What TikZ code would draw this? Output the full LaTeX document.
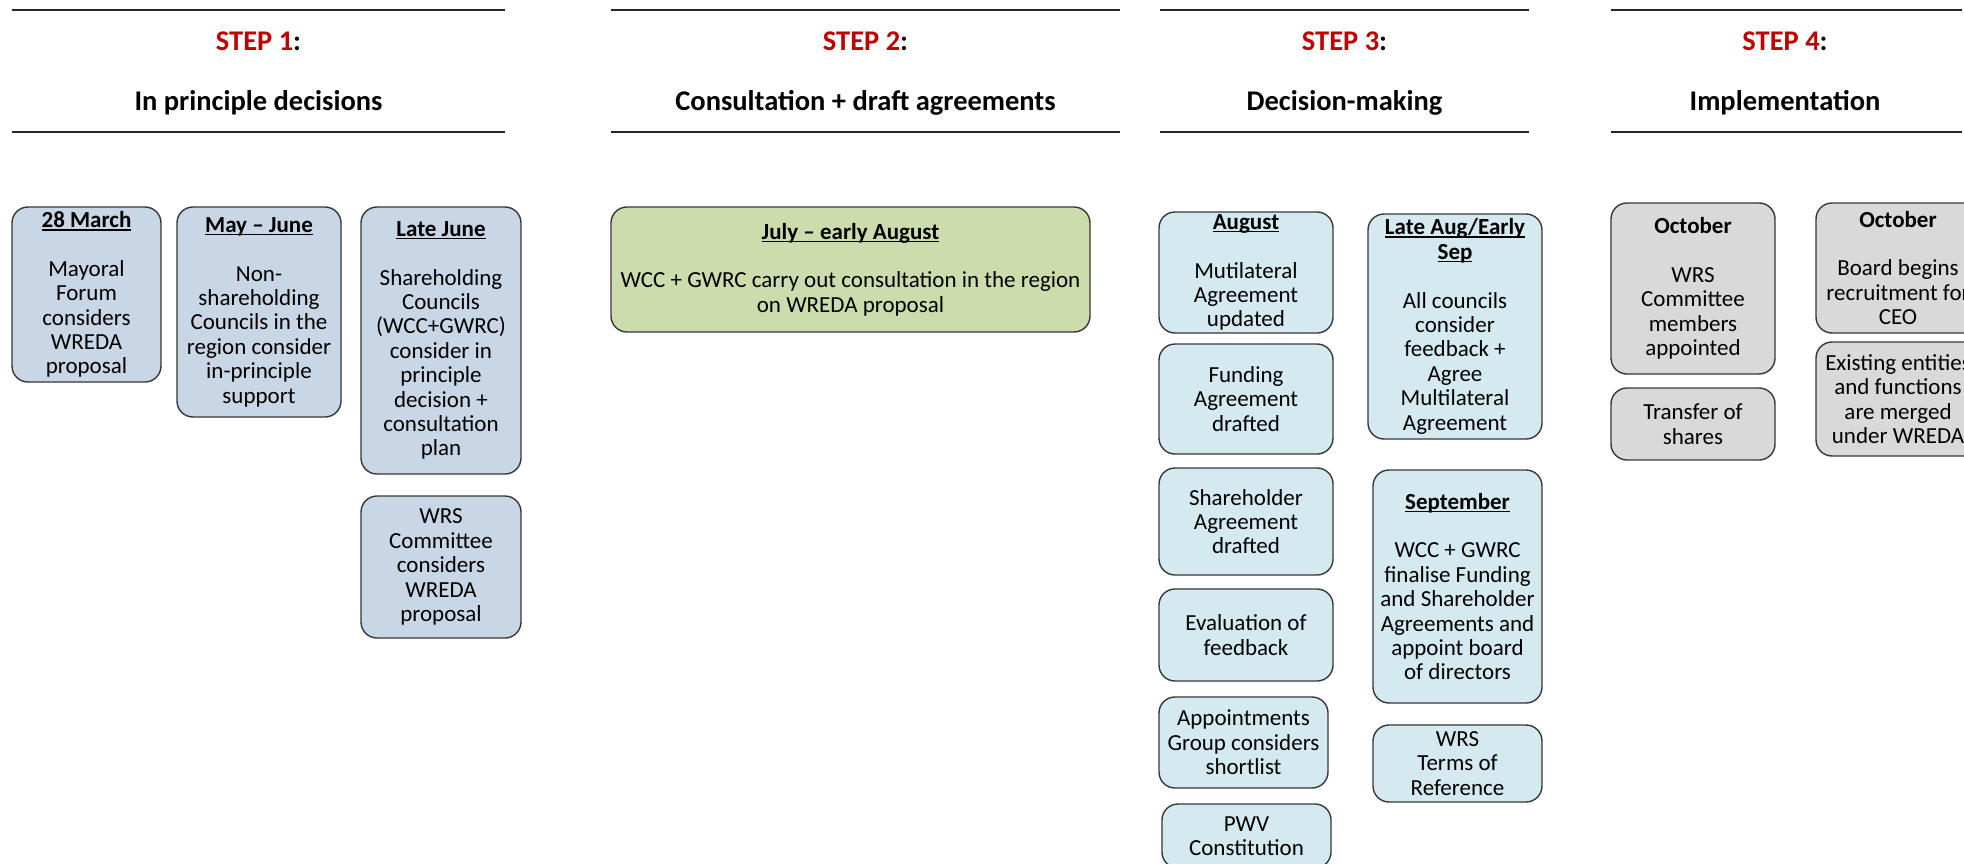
\documentclass[tikz,border=0pt]{standalone}
\usepackage{fontspec}
\setmainfont{Carlito}
\definecolor{fillA}{RGB}{200,214,229}
\definecolor{fillB}{RGB}{204,220,172}
\definecolor{fillC}{RGB}{212,234,240}
\definecolor{fillD}{RGB}{217,217,217}
\definecolor{boxline}{RGB}{55,55,55}
\definecolor{hline}{RGB}{40,40,40}
\definecolor{stepred}{RGB}{192,0,0}
\newcommand\ulx[1]{\setbox0\hbox{#1}\rlap{\rule[-3pt]{\wd0}{1.5pt}}\box0}
\newcommand\ttl[1]{\textbf{\ulx{#1}}}
\begin{document}
\begin{tikzpicture}[x=1pt,y=-1pt,
  box/.style={draw=boxline, line width=1.4pt, rounded corners=16pt, align=center,
    inner sep=0pt, font=\fontsize{23}{24.4}\selectfont},
  sA/.style={box, fill=fillA},
  sB/.style={box, fill=fillB},
  sC/.style={box, fill=fillC},
  sD/.style={box, fill=fillD},
  steplbl/.style={anchor=base, inner sep=0pt, font=\fontsize{28.5}{30}\selectfont\bfseries},
  headlbl/.style={anchor=base, inner sep=0pt, font=\fontsize{28.5}{30}\selectfont\bfseries},
  hrule/.style={draw=hline, line width=1.3pt}]
\useasboundingbox (0,0) rectangle (1964,864);
\clip (0,0) rectangle (1964,864);

% ---- headers ----
\foreach \n/\xa/\xb in {1/12/505, 2/611/1120, 3/1160/1529, 4/1611/1962}{
  \coordinate (t\n a) at (\xa,10);
  \coordinate (t\n b) at (\xb,10);
  \coordinate (b\n a) at (\xa,132);
  \coordinate (b\n b) at (\xb,132);
  \draw[hrule] (t\n a) -- (t\n b);
  \draw[hrule] (b\n a) -- (b\n b);
}
\node[steplbl] (st1) at (258.5,50.5) {\textcolor{stepred}{STEP 1}:};
\node[headlbl] (hd1) at (258.5,111) {In principle decisions};
\node[steplbl] (st2) at (865.5,50.5) {\textcolor{stepred}{STEP 2}:};
\node[headlbl] (hd2) at (865.5,111) {Consultation + draft agreements};
\node[steplbl] (st3) at (1344.5,50.5) {\textcolor{stepred}{STEP 3}:};
\node[headlbl] (hd3) at (1344.5,111) {Decision-making};
\node[steplbl] (st4) at (1785,50.5) {\textcolor{stepred}{STEP 4}:};
\node[headlbl] (hd4) at (1785,111) {Implementation};

% ---- step 1 ----
\node[sA, minimum width=149pt, minimum height=175pt] (m28) at (86.5,294.5)
  {\ttl{28 March}\\[24.4pt]Mayoral\\Forum\\considers\\WREDA\\proposal};
\node[sA, minimum width=164pt, minimum height=210pt] (mj) at (259,312)
  {\ttl{May – June}\\[24.4pt]Non-\\shareholding\\Councils in the\\region consider\\in-principle\\support};
\node[sA, minimum width=160pt, minimum height=267pt] (lj) at (441,340.5)
  {\ttl{Late June}\\[24.4pt]Shareholding\\Councils\\(WCC+GWRC)\\consider in\\principle\\decision +\\consultation\\plan};
\node[sA, minimum width=160pt, minimum height=142pt] (wrs) at (441,567)
  {WRS\\Committee\\considers\\WREDA\\proposal};

% ---- step 2 ----
\node[sB, minimum width=479pt, minimum height=125pt] (jul) at (850.5,269.5)
  {\ttl{July – early August}\\[24.4pt]WCC + GWRC carry out consultation in the region\\on WREDA proposal};

% ---- step 3 ----
\node[sC, minimum width=174pt, minimum height=121pt] (aug) at (1246,272.5)
  {\ttl{August}\\[24.4pt]Mutilateral\\Agreement\\updated};
\node[sC, minimum width=174pt, minimum height=110pt] (fund) at (1246,399)
  {Funding\\Agreement\\drafted};
\node[sC, minimum width=174pt, minimum height=107pt] (shr) at (1246,521.5)
  {Shareholder\\Agreement\\drafted};
\node[sC, minimum width=174pt, minimum height=92pt] (evl) at (1246,635)
  {Evaluation of\\feedback};
\node[sC, minimum width=169pt, minimum height=91pt] (app) at (1243.5,742.5)
  {Appointments\\Group considers\\shortlist};
\node[sC, minimum width=169pt, minimum height=64pt] (pwv) at (1246.5,836)
  {PWV\\Constitution};
\node[sC, minimum width=174pt, minimum height=225pt] (lae) at (1455,326.5)
  {\ttl{Late Aug/Early}\\\ttl{Sep}\\[24.4pt]All councils\\consider\\feedback +\\Agree\\Multilateral\\Agreement};
\node[sC, minimum width=169pt, minimum height=233pt] (sep) at (1457.5,586.5)
  {\ttl{September}\\[24.4pt]WCC + GWRC\\finalise Funding\\and Shareholder\\Agreements and\\appoint board\\of directors};
\node[sC, minimum width=169pt, minimum height=77pt] (tor) at (1457.5,763.5)
  {WRS\\Terms of\\Reference};

% ---- step 4 ----
\node[sD, minimum width=164pt, minimum height=171pt] (oc1) at (1693,288.5)
  {\textbf{October}\\[24.4pt]WRS\\Committee\\members\\appointed};
\node[sD, minimum width=164pt, minimum height=72pt] (trf) at (1693,424)
  {Transfer of\\shares};
\node[sD, minimum width=164pt, minimum height=130pt] (oc2) at (1898,268)
  {\textbf{October}\\[24.4pt]Board begins\\recruitment for\\CEO};
\node[sD, minimum width=164pt, minimum height=114pt] (ext) at (1898,399)
  {Existing entities\\and functions\\are merged\\under WREDA};
\end{tikzpicture}
\end{document}
